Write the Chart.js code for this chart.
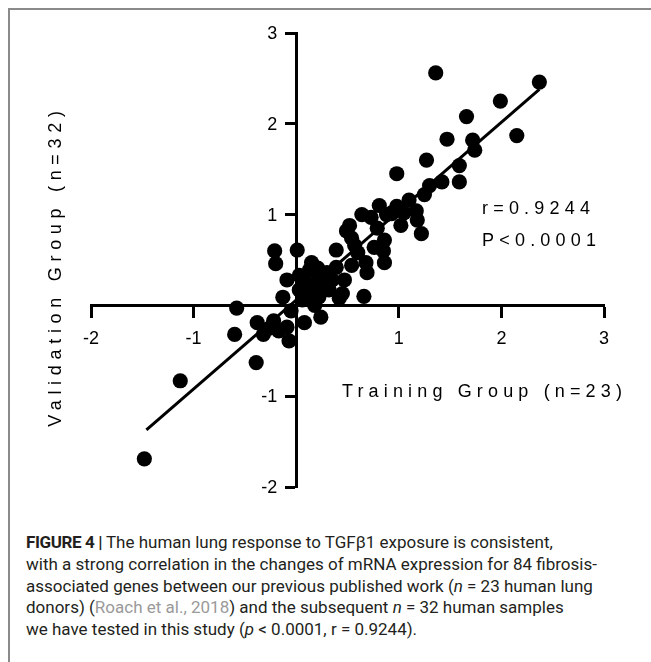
<!DOCTYPE html>
<html>
<head>
<meta charset="utf-8">
<title>Figure 4</title>
<script src="https://cdn.jsdelivr.net/npm/chart.js@4.4.0/dist/chart.umd.min.js"></script>
<style>
  html, body { margin: 0; padding: 0; background: #fff; }
  body { width: 651px; height: 662px; position: relative; overflow: hidden; }
  .frame { position: absolute; left: 8px; top: 8px; right: -10px; bottom: -10px;
           border-top: 2px solid #8a8a8a; border-left: 2px solid #8a8a8a; }
  .chart-box { position: absolute; left: 0; top: 0; width: 651px; height: 530px; }
  .caption { position: absolute; left: 26px; top: 532px; font-family: Roboto, "Liberation Sans", sans-serif;
             font-size: 17px; line-height: 21.8px; color: #231f20; white-space: nowrap; }
  .caption b { font-weight: 700; letter-spacing: -0.4px; }
  .caption .ref { color: #9a9a9a; }
</style>
</head>
<body>
<div class="frame"></div>
<div class="chart-box"><canvas id="scatter" width="651" height="530"></canvas></div>
<div class="caption">
  <div><b>FIGURE 4 |</b> The human lung response to TGFβ1 exposure is consistent,</div>
  <div>with a strong correlation in the changes of mRNA expression for 84 fibrosis-</div>
  <div>associated genes between our previous published work (<i>n</i> = 23 human lung</div>
  <div>donors) (<span class="ref">Roach et al., 2018</span>) and the subsequent <i>n</i> = 32 human samples</div>
  <div>we have tested in this study (<i>p</i> &lt; 0.0001, r = 0.9244).</div>
</div>
<script>
// fold changes per gene (log scale)
var trainX = [
  -1.48, -1.13, -0.58, -0.60, -0.39, -0.38, -0.32, -0.22, -0.17, -0.09,
  -0.07, 0.08, 0.24, -0.21, -0.20, 0.01, -0.09, -0.13, 0.06, 0.11,
  0.08, 0.13, 0.22, 0.22, 0.16, 0.03, 0.42, 0.66, 0.35, 0.39,
  0.39, 0.49, 0.60, 0.64, 0.73, 0.68, 0.69, 0.86, 0.85, 0.86,
  0.88, 0.98, 0.98, 1.02, 1.17, 1.18, 1.22, 1.25, 1.27, 1.42,
  1.47, 1.59, 1.59, 1.66, 1.72, 1.74, 1.36, 1.99, 2.15, 2.37,
  0.76, 0.45, 0.18, 0.27, -0.05, 0.32, 0.15, 0.21, 0.30, 0.03,
  0.47, 0.54, 0.57, 0.52, 0.79, 0.93, 1.05, 0.81, 0.93, 1.30,
  1.10, 0.54, -0.26, 0.18
];
var validY = [
  -1.69, -0.83, -0.03, -0.32, -0.63, -0.19, -0.32, -0.17, -0.28, -0.24,
  -0.39, -0.19, -0.13, 0.60, 0.46, 0.61, 0.28, 0.09, 0.06, 0.17,
  0.28, 0.39, 0.31, 0.09, 0.22, 0.17, 0.08, 0.10, 0.28, 0.42,
  0.61, 0.82, 0.58, 1.00, 0.97, 0.47, 0.36, 0.72, 0.60, 0.47,
  1.00, 1.45, 1.09, 0.88, 1.04, 0.94, 0.79, 1.22, 1.60, 1.36,
  1.83, 1.54, 1.36, 2.08, 1.82, 1.71, 2.56, 2.25, 1.87, 2.46,
  0.64, 0.13, 0.11, 0.19, -0.06, 0.17, 0.47, 0.41, 0.36, 0.33,
  0.28, 0.44, 0.66, 0.88, 0.85, 1.01, 1.02, 1.10, 1.02, 1.32,
  1.16, 0.74, -0.25, 0.00
];
// linear regression line end points
var fitX = [-1.46, 2.37];
var fitY = [-1.37, 2.38];

var axisFont = { family: "'Liberation Sans', Arial, sans-serif", size: 18 };

function toPoints(xs, ys) {
  var out = [];
  for (var i = 0; i < xs.length; i++) out.push({ x: xs[i], y: ys[i] });
  return out;
}

function tickText(v) {
  return v === 0 ? '' : String(v);
}

// y tick labels (center axis puts them on the line), axis titles, stats text
var labelsPlugin = {
  id: 'figLabels',
  afterDraw: function (chart) {
    var ctx = chart.ctx;
    var xs = chart.scales.x, ys = chart.scales.y;
    ctx.save();
    ctx.fillStyle = '#000';
    ctx.font = "18px 'Liberation Sans', Arial, sans-serif";
    ctx.textBaseline = 'middle';

    ctx.textAlign = 'right';
    var axisX = xs.getPixelForValue(0);
    ys.ticks.forEach(function (t) {
      var s = tickText(t.value);
      if (s) ctx.fillText(s, axisX - 19, ys.getPixelForValue(t.value) + 1);
    });

    ctx.textAlign = 'left';
    ctx.letterSpacing = '5.15px';
    ctx.fillText('Training Group (n=23)', 342, 392);
    ctx.letterSpacing = '5.2px';
    ctx.fillText('r=0.9244', 482, 209);
    ctx.fillText('P<0.0001', 482, 241);
    ctx.translate(56, 266);
    ctx.rotate(-Math.PI / 2);
    ctx.textAlign = 'center';
    ctx.letterSpacing = '5.7px';
    ctx.fillText('Validation Group (n=32)', 0, 0);
    ctx.restore();
  }
};

var ctx = document.getElementById('scatter').getContext('2d');
var chart = new Chart(ctx, {
  type: 'scatter',
  data: {
    datasets: [
      {
        type: 'line',
        data: toPoints(fitX, fitY),
        borderColor: '#000',
        borderWidth: 3,
        pointRadius: 0,
        fill: false,
        order: 2
      },
      {
        data: toPoints(trainX, validY),
        backgroundColor: '#000',
        borderWidth: 0,
        pointRadius: 7.6,
        clip: false,
        order: 1
      }
    ]
  },
  options: {
    responsive: false,
    animation: false,
    layout: { padding: { left: 91, right: 47, top: 33, bottom: 43 } },
    plugins: { legend: { display: false }, tooltip: { enabled: false } },
    scales: {
      x: {
        type: 'linear',
        position: { y: 0 },
        min: -2, max: 3,
        ticks: { stepSize: 1, color: '#000', font: axisFont, padding: 12, maxRotation: 0, callback: tickText },
        grid: { drawOnChartArea: false, drawTicks: true, tickLength: 11, tickWidth: 3, tickColor: '#000' },
        border: { display: true, width: 3, color: '#000' }
      },
      y: {
        type: 'linear',
        position: { x: 0 },
        min: -2, max: 3,
        ticks: { stepSize: 1, display: false },
        grid: { drawOnChartArea: false, drawTicks: true, tickLength: 10, tickWidth: 3, tickColor: '#000' },
        border: { display: true, width: 3, color: '#000' }
      }
    }
  },
  plugins: [labelsPlugin]
});
</script>
</body>
</html>
